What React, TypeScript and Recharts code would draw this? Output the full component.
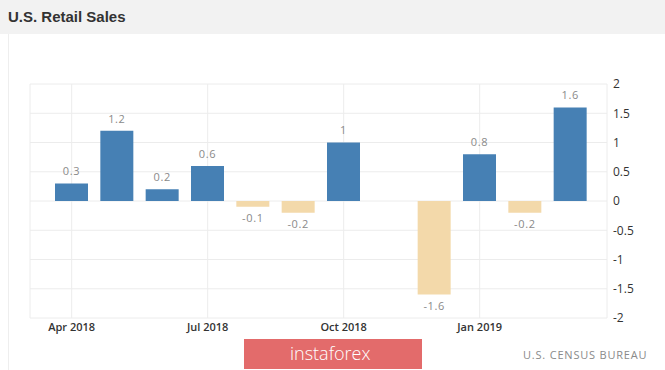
import { Bar, BarChart, CartesianGrid, Cell, LabelList, XAxis, YAxis } from 'recharts';

const months = [
  'Apr 2018', 'May 2018', 'Jun 2018', 'Jul 2018', 'Aug 2018', 'Sep 2018',
  'Oct 2018', 'Nov 2018', 'Dec 2018', 'Jan 2019', 'Feb 2019', 'Mar 2019',
];
const changes = [0.3, 1.2, 0.2, 0.6, -0.1, -0.2, 1, 0, -1.6, 0.8, -0.2, 1.6];
const xTicks = ['Apr 2018', 'Jul 2018', 'Oct 2018', 'Jan 2019'];
const yTicks = [-2, -1.5, -1, -0.5, 0, 0.5, 1, 1.5, 2];

const data = months.map((month, i) => ({ month, value: changes[i] }));

const font = '"Open Sans", sans-serif';
const gridColor = '#ececec';

const ValueLabel = (props: any) => {
  const { x, y, width, height, value } = props;
  const top = Math.min(y, y + height);
  const bottom = Math.max(y, y + height);
  const cy = value < 0 ? bottom + 12 : top - 11;
  return (
    <text
      x={x + width / 2}
      y={cy}
      textAnchor="middle"
      dominantBaseline="middle"
      fill="#8a8a8a"
      fontSize={11}
      letterSpacing={0.6}
      fontFamily={font}
    >
      {value}
    </text>
  );
};

export default function App() {
  return (
    <div style={{ position: 'absolute', left: 0, top: 0, width: 665, height: 370, background: '#fff', overflow: 'hidden' }}>
      <div
        style={{
          position: 'absolute', left: 0, top: 0, width: 665, height: 34, background: '#f2f2f2',
        }}
      />
      <div
        style={{
          position: 'absolute', left: 8, top: 7, fontFamily: '"Liberation Sans Narrow", "Liberation Sans", sans-serif',
          fontWeight: 700, fontSize: 15, color: '#333', lineHeight: '20px',
        }}
      >
        U.S. Retail Sales
      </div>
      <div style={{ position: 'absolute', left: 8, top: 34, width: 1, height: 336, background: '#eeeeee' }} />

      <div style={{ position: 'absolute', left: 0, top: 0 }}>
        <BarChart width={665} height={370} data={data} margin={{ top: 84, right: 0, bottom: 0, left: 30 }}>
          <CartesianGrid stroke={gridColor} />
          <XAxis
            dataKey="month"
            ticks={xTicks}
            interval={0}
            height={52}
            padding={{ left: 19, right: 14 }}
            axisLine={false}
            tickLine={false}
            tickSize={3}
            tickMargin={2}
            tick={{ fill: '#333', fontSize: 11, fontWeight: 600, fontFamily: font }}
          />
          <YAxis
            orientation="right"
            domain={[-2, 2]}
            ticks={yTicks}
            width={58}
            axisLine={false}
            tickLine={false}
            tickSize={4}
            tickMargin={2}
            tick={{ fill: '#333', fontSize: 12, fontFamily: font, textAnchor: 'start' }}
          />
          <Bar dataKey="value" barSize={33} isAnimationActive={false}>
            {data.map((d) => (
              <Cell key={d.month} fill={d.value < 0 ? '#f3d9aa' : '#4680b4'} />
            ))}
            <LabelList dataKey="value" content={ValueLabel} />
          </Bar>
        </BarChart>
      </div>

      <div
        style={{
          position: 'absolute', left: 244, top: 339, width: 178, height: 30, background: '#e36b6b',
          color: '#fff', fontFamily: font, fontWeight: 300, fontSize: 18, lineHeight: '29px',
          boxSizing: 'border-box', paddingLeft: 46,
        }}
      >
        instaforex
      </div>
      <div
        style={{
          position: 'absolute', left: 523, top: 348, fontFamily: font, fontSize: 11, color: '#8a8a8a',
          letterSpacing: 0.8, lineHeight: '14px', whiteSpace: 'nowrap',
        }}
      >
        U.S. CENSUS BUREAU
      </div>
    </div>
  );
}
